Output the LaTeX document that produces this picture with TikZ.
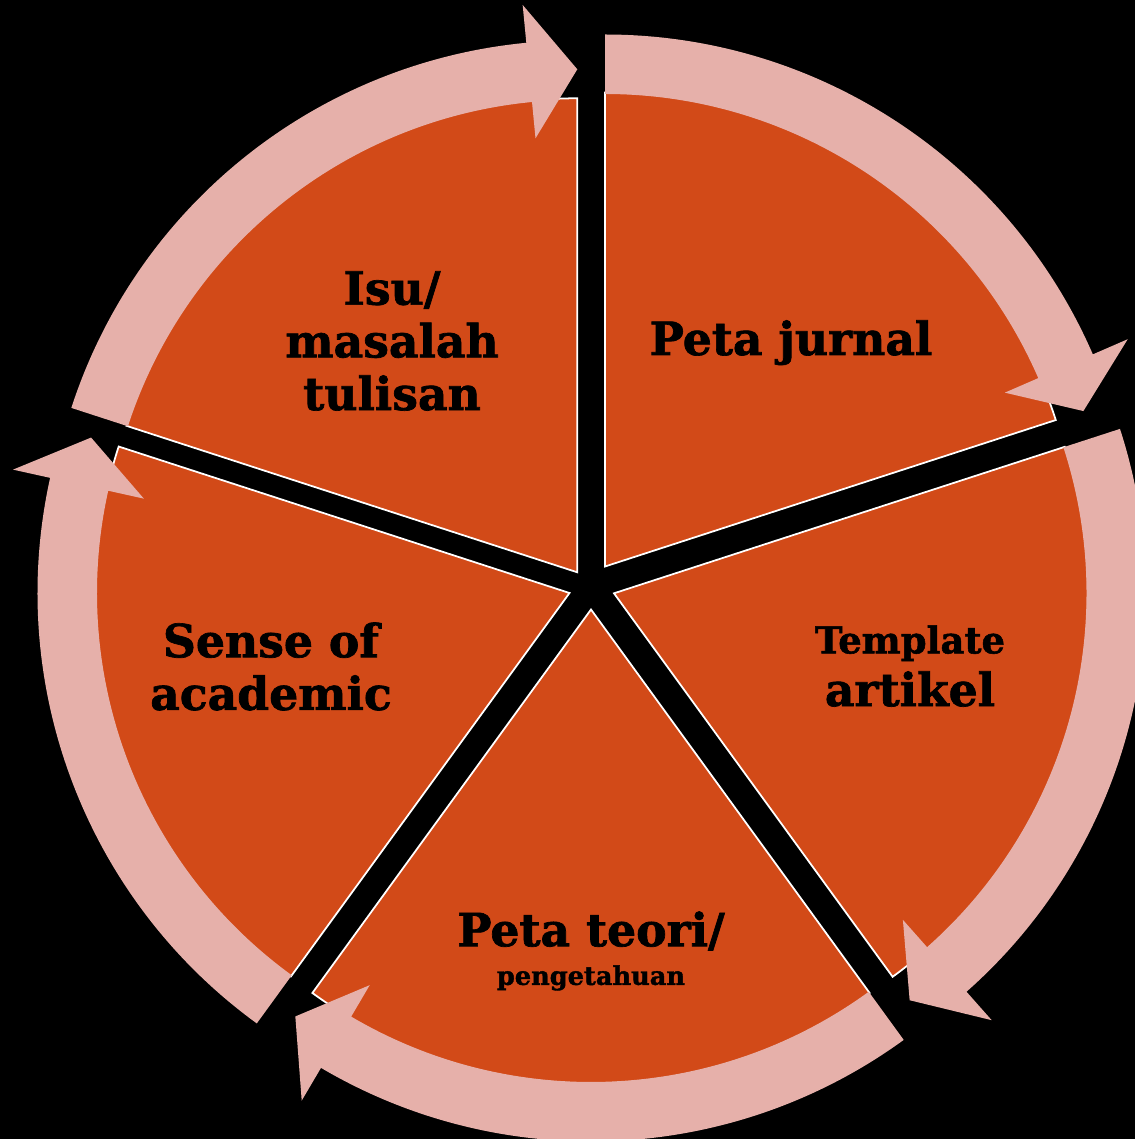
\documentclass[tikz,border=0pt]{standalone}
\usepackage{fontspec}
\setmainfont{DejaVu Serif}[BoldFeatures={FakeBold=1.5}]
\usepackage{xcolor}
\usetikzlibrary{calc}

\definecolor{wedgeorange}{RGB}{210,74,24}
\definecolor{bandpink}{RGB}{230,176,170}

\begin{document}
\begin{tikzpicture}[x=0.02cm, y=0.02cm,
    wedge/.style={fill=wedgeorange, draw=white, line width=1pt, line join=miter},
    band/.style={fill=bandpink},
    lbl/.style={text=black, align=center, inner sep=0pt,
        font=\bfseries\fontsize{26}{30}\selectfont}]
    \fill[black] (-591,586) rectangle (544,-553);
    \useasboundingbox (-591,586) rectangle (544,-553);

    % tips of the five pieces
    \coordinate (isu) at (-13.7,13.7);
    \coordinate (jurnal) at (14,19.5);
    \coordinate (template) at (23,-7.3);
    \coordinate (teori) at (0,-23.5);
    \coordinate (sense) at (-21.5,-7);

    % Isu / masalah
    \begin{scope}[shift={(isu)}]
    \filldraw[wedge] (0,0) -- (162:474) arc[start angle=162, end angle=90, radius=474] -- cycle;
    \fill[band] (162:472.5) -- (162:532) arc[start angle=162, end angle=95.5, radius=532]
        -- (95.5:570) -- (90:503) -- (95.5:436) -- (95.5:472.5)
        arc[start angle=95.5, end angle=162, radius=472.5] -- cycle;
    \end{scope}

    % Peta jurnal
    \begin{scope}[shift={(jurnal)}]
    \filldraw[wedge] (0,0) -- (90:474) arc[start angle=90, end angle=18, radius=474] -- cycle;
    \fill[band] (90:472.5) -- (90:532) arc[start angle=90, end angle=23.5, radius=532]
        -- (23.5:570) -- (18:503) -- (23.5:436) -- (23.5:472.5)
        arc[start angle=23.5, end angle=90, radius=472.5] -- cycle;
    \end{scope}

    % Template artikel
    \begin{scope}[shift={(template)}]
    \filldraw[wedge] (0,0) -- (18:474) arc[start angle=18, end angle=-54, radius=474] -- cycle;
    \fill[band] (18:472.5) -- (18:532) arc[start angle=18, end angle=-48.5, radius=532]
        -- (-48.5:570) -- (-54:503) -- (-48.5:436) -- (-48.5:472.5)
        arc[start angle=-48.5, end angle=18, radius=472.5] -- cycle;
    \end{scope}

    % Peta teori
    \begin{scope}[shift={(teori)}]
    \filldraw[wedge] (0,0) -- (-54:474) arc[start angle=-54, end angle=-126, radius=474] -- cycle;
    \fill[band] (-54:472.5) -- (-54:532) arc[start angle=-54, end angle=-120.5, radius=532]
        -- (-120.5:570) -- (-126:503) -- (-120.5:436) -- (-120.5:472.5)
        arc[start angle=-120.5, end angle=-54, radius=472.5] -- cycle;
    \end{scope}

    % Sense of academic
    \begin{scope}[shift={(sense)}]
    \filldraw[wedge] (0,0) -- (234:474) arc[start angle=234, end angle=162, radius=474] -- cycle;
    \fill[band] (234:472.5) -- (234:532) arc[start angle=234, end angle=167.5, radius=532]
        -- (167.5:570) -- (162:503) -- (167.5:436) -- (167.5:472.5)
        arc[start angle=167.5, end angle=234, radius=472.5] -- cycle;
    \end{scope}

    % labels
    \node[lbl] (isu text) at (-199,245) {Isu/\\masalah\\tulisan};
    \node[lbl, anchor=base] (jurnal text) at (200,231) {Peta jurnal};
    \node[lbl] (template text) at (319,-80) {{\fontsize{21}{30}\selectfont Template}\\artikel};
    \node[lbl] (teori text) at (0,-365) {Peta teori/\\[-8pt]{\fontsize{14.6}{30}\selectfont pengetahuan}};
    \node[lbl] (sense text) at (-320,-80.5) {Sense of\\academic};
\end{tikzpicture}
\end{document}
